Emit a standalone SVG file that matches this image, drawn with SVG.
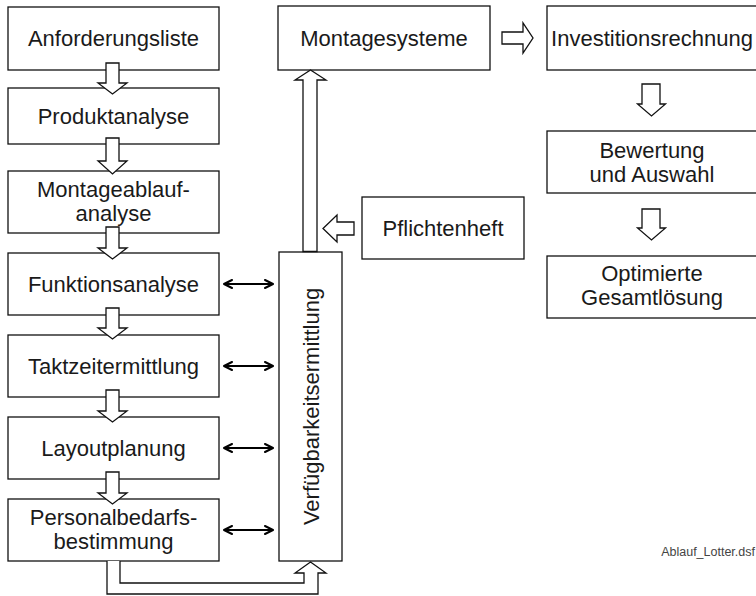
<svg xmlns="http://www.w3.org/2000/svg" width="756" height="596" viewBox="0 0 756 596">
  <defs>
    <style>
      .box { fill: #ffffff; stroke: #111111; stroke-width: 1.3; }
      .blk { fill: #ffffff; stroke: #111111; stroke-width: 1.3; stroke-linejoin: miter; }
      .lbl { font-family: "Liberation Sans", Arial, sans-serif; font-size: 22px; fill: #1a1a1a; text-anchor: middle; }
      .dbl { stroke: #000000; stroke-width: 2; fill: none; marker-start: url(#tip); marker-end: url(#tip); }
      .foot { font-family: "Liberation Sans", Arial, sans-serif; font-size: 12.5px; fill: #444444; text-anchor: end; }
    </style>
    <marker id="tip" viewBox="0 0 10 10" refX="9" refY="5" markerWidth="5" markerHeight="5" orient="auto-start-reverse" markerUnits="strokeWidth">
      <path d="M1,1 L9,5 L1,9" fill="none" stroke="#000000" stroke-width="2" stroke-linecap="round" stroke-linejoin="round"/>
    </marker>
  </defs>

  <rect width="756" height="596" fill="#ffffff"/>

  <!-- left column: process steps -->
  <g id="anforderungsliste">
    <rect class="box" x="8" y="7" width="211" height="63"/>
    <text class="lbl" x="113.5" y="46">Anforderungsliste</text>
  </g>
  <g id="produktanalyse">
    <rect class="box" x="8" y="88" width="211" height="56"/>
    <text class="lbl" x="113.5" y="124">Produktanalyse</text>
  </g>
  <g id="montageablaufanalyse">
    <rect class="box" x="8" y="171" width="211" height="62"/>
    <text class="lbl" x="113.5" y="197">Montageablauf-</text>
    <text class="lbl" x="113.5" y="221">analyse</text>
  </g>
  <g id="funktionsanalyse">
    <rect class="box" x="8" y="253" width="211" height="62"/>
    <text class="lbl" x="113.5" y="292">Funktionsanalyse</text>
  </g>
  <g id="taktzeitermittlung">
    <rect class="box" x="8" y="335" width="211" height="62"/>
    <text class="lbl" x="113.5" y="374">Taktzeitermittlung</text>
  </g>
  <g id="layoutplanung">
    <rect class="box" x="8" y="417" width="211" height="62"/>
    <text class="lbl" x="113.5" y="456">Layoutplanung</text>
  </g>
  <g id="personalbedarfsbestimmung">
    <rect class="box" x="8" y="499" width="211" height="62"/>
    <text class="lbl" x="113.5" y="525">Personalbedarfs-</text>
    <text class="lbl" x="113.5" y="549">bestimmung</text>
  </g>

  <!-- middle column -->
  <g id="verfuegbarkeitsermittlung">
    <rect class="box" x="279" y="252" width="63" height="309"/>
    <text class="lbl" transform="translate(318.5,406.5) rotate(-90)" x="0" y="0">Verfügbarkeitsermittlung</text>
  </g>
  <g id="montagesysteme">
    <rect class="box" x="278" y="6" width="212" height="64"/>
    <text class="lbl" x="384" y="46">Montagesysteme</text>
  </g>
  <g id="pflichtenheft">
    <rect class="box" x="362" y="197" width="162" height="62"/>
    <text class="lbl" x="443" y="236">Pflichtenheft</text>
  </g>

  <!-- right column -->
  <g id="investitionsrechnung">
    <rect class="box" x="547" y="6" width="212" height="64"/>
    <text class="lbl" x="652" y="46">Investitionsrechnung</text>
  </g>
  <g id="bewertung">
    <rect class="box" x="547" y="131" width="212" height="62"/>
    <text class="lbl" x="652" y="158">Bewertung</text>
    <text class="lbl" x="652" y="182">und Auswahl</text>
  </g>
  <g id="optimierte-gesamtloesung">
    <rect class="box" x="547" y="256" width="212" height="62"/>
    <text class="lbl" x="652" y="281">Optimierte</text>
    <text class="lbl" x="652" y="305">Gesamtlösung</text>
  </g>

  <!-- connectors -->
  <g id="connectors">
    <!-- hollow block arrows down the left column -->
    <path class="blk" d="M106,63 V83 H98 L112.5,94 L127,83 H119 V63 Z"/>
    <path class="blk" d="M106,138 V161 H98 L112.5,174 L127,161 H119 V138 Z"/>
    <path class="blk" d="M106,227 V248 H98 L112.5,259 L127,248 H119 V227 Z"/>
    <path class="blk" d="M106,308 V328 H98 L112.5,339 L127,328 H119 V308 Z"/>
    <path class="blk" d="M106,390 V411 H98 L112.5,422 L127,411 H119 V390 Z"/>
    <path class="blk" d="M106,472 V493 H98 L112.5,504 L127,493 H119 V472 Z"/>

    <!-- return path from the last step into the availability block -->
    <path class="blk" fill="none" d="M107,561 V594 H318 V573 H326 L310.5,562 L295,573 H304 V583 H120 V561"/>

    <!-- availability block up to assembly systems -->
    <path class="blk" d="M303,251.5 V80 H295 L310.5,70 L326,80 H317 V251.5 Z"/>

    <!-- specification into the rising shaft -->
    <path class="blk" d="M354,222 H337 V215 L323,228.5 L337,242 V235 H354 Z"/>

    <!-- assembly systems to investment appraisal -->
    <path class="blk" d="M502,32 H523 V23 L533,38 L523,53 V44 H502 Z"/>

    <!-- right column flow -->
    <path class="blk" d="M642,84 V104 H637.5 L651.5,116 L665.5,104 H660 V84 Z"/>
    <path class="blk" d="M642,209 V228 H637.5 L651.5,240 L665.5,228 H660 V209 Z"/>

    <!-- two-way links to the availability block -->
    <line class="dbl" x1="224" y1="284" x2="273" y2="284"/>
    <line class="dbl" x1="224" y1="366" x2="273" y2="366"/>
    <line class="dbl" x1="224" y1="448" x2="273" y2="448"/>
    <line class="dbl" x1="224" y1="530" x2="273" y2="530"/>
  </g>

  <text class="foot" x="755" y="556">Ablauf_Lotter.dsf</text>
</svg>
